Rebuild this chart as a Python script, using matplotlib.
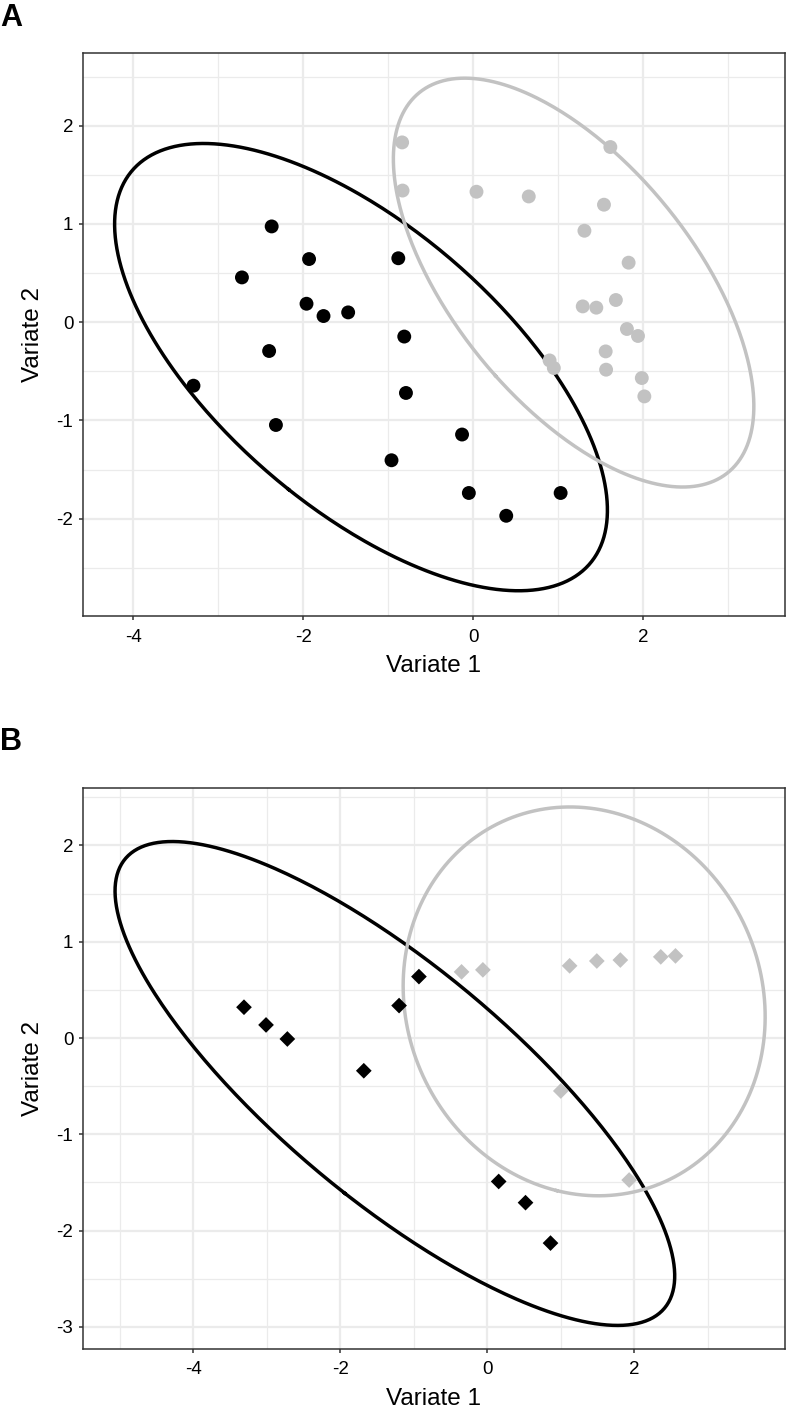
"""Two-panel sample plot (Variate 1 vs Variate 2) with 95% confidence ellipses
per group, ggplot/theme_bw look. Saves out.png."""
import matplotlib
matplotlib.use("Agg")
import matplotlib.pyplot as plt
import numpy as np

BLACK_C, GREY_C = "#000000", "#C2C2C2"
GRID_C = "#EBEBEB"
BORDER_C = "#333333"

# panel A - circles
a_black_x = [-2.37, -2.72, -1.93, -0.88, -1.96, -1.76, -1.47, -0.81, -2.40,
             -3.29, -0.79, -2.32, -0.13, -0.96, -0.05, 1.03, 0.39]
a_black_y = [0.975, 0.456, 0.643, 0.651, 0.188, 0.063, 0.10, -0.146, -0.293,
             -0.646, -0.72, -1.046, -1.143, -1.405, -1.738, -1.738, -1.97]
a_grey_x = [-0.835, 1.615, -0.83, 0.04, 0.655, 1.54, 1.31, 1.83, 1.29, 1.45,
            1.68, 1.81, 1.94, 1.56, 0.90, 0.95, 1.565, 1.985, 2.015]
a_grey_y = [1.83, 1.783, 1.34, 1.328, 1.28, 1.196, 0.931, 0.606, 0.161, 0.148,
            0.226, -0.069, -0.14, -0.297, -0.389, -0.466, -0.483, -0.568, -0.755]

# panel B - diamonds
b_black_x = [-3.31, -3.01, -2.72, -1.68, -1.20, -0.93, 0.155, 0.52, 0.86]
b_black_y = [0.32, 0.136, -0.01, -0.34, 0.337, 0.638, -1.49, -1.71, -2.13]
b_grey_x = [-0.35, -0.06, 1.12, 1.49, 1.81, 2.36, 2.56, 1.00, 1.93]
b_grey_y = [0.687, 0.708, 0.75, 0.80, 0.81, 0.843, 0.853, -0.55, -1.475]

A_XLIM, A_YLIM = (-4.59, 3.67), (-2.99, 2.74)
B_XLIM, B_YLIM = (-5.50, 4.05), (-3.23, 2.60)
A_YTICKS = [-2, -1, 0, 1, 2]
B_YTICKS = [-3, -2, -1, 0, 1, 2]
XTICKS = [-4, -2, 0, 2]

plt.rcParams.update({
    "font.family": ["Liberation Sans", "DejaVu Sans"],
    "font.size": 13.5,
})


def ellipse(xs, ys, level=0.95, n=400):
    pts = np.column_stack([xs, ys])
    mu = pts.mean(axis=0)
    cov = np.cov(pts, rowvar=False)
    t = np.sqrt(-2 * np.log(1 - level))  # sqrt(qchisq(level, 2))
    vals, vecs = np.linalg.eigh(cov)
    th = np.linspace(0, 2 * np.pi, n)
    circ = np.vstack([np.cos(th), np.sin(th)]) * (t * np.sqrt(vals))[:, None]
    e = vecs @ circ
    return mu[0] + e[0], mu[1] + e[1]


def style(ax, xlim, ylim, yticks):
    ax.set_xlim(xlim)
    ax.set_ylim(ylim)
    ax.set_xticks(XTICKS)
    ax.set_yticks(yticks)
    ax.set_xticklabels([str(v) for v in XTICKS])
    ax.set_yticklabels([str(v) for v in yticks])
    xminor = [v + 1 for v in range(-8, 8, 2)]
    yminor = [v + 0.5 for v in range(-5, 5)]
    ax.set_xticks([v for v in xminor if xlim[0] < v < xlim[1]], minor=True)
    ax.set_yticks([v for v in yminor if ylim[0] < v < ylim[1]], minor=True)
    ax.grid(True, which="major", color=GRID_C, lw=1.6, zorder=0)
    ax.grid(True, which="minor", color=GRID_C, lw=0.9, zorder=0)
    ax.set_axisbelow(True)
    for s in ax.spines.values():
        s.set_color(BORDER_C)
        s.set_linewidth(1.1)
    ax.tick_params(which="major", length=3, width=1.1, color=BORDER_C,
                   labelcolor="black", labelsize=13.5)
    ax.tick_params(axis="x", which="major", pad=6)
    ax.tick_params(axis="y", which="major", pad=4)
    ax.tick_params(which="minor", length=0)
    ax.set_xlabel("Variate 1", fontsize=17.5, labelpad=7)
    ax.set_ylabel("Variate 2", fontsize=17.5, labelpad=9)


fig = plt.figure(figsize=(7.86, 14.13), dpi=100)
axA = fig.add_axes([83 / 786, 1 - 616 / 1413, 702 / 786, 563 / 1413])
axB = fig.add_axes([83 / 786, 1 - 1349 / 1413, 702 / 786, 561.3 / 1413])

# panel A
ex, ey = ellipse(a_black_x, a_black_y)
axA.plot(ex, ey, color=BLACK_C, lw=2.5, zorder=3)
ex, ey = ellipse(a_grey_x, a_grey_y)
axA.plot(ex, ey, color=GREY_C, lw=2.5, zorder=3)
axA.scatter(a_grey_x, a_grey_y, s=100, color=GREY_C, edgecolors="none", zorder=4)
axA.scatter(a_black_x, a_black_y, s=100, color=BLACK_C, edgecolors="none", zorder=4)
style(axA, A_XLIM, A_YLIM, A_YTICKS)

# panel B
ex, ey = ellipse(b_black_x, b_black_y)
axB.plot(ex, ey, color=BLACK_C, lw=2.5, zorder=3)
ex, ey = ellipse(b_grey_x, b_grey_y)
axB.plot(ex, ey, color=GREY_C, lw=2.5, zorder=3)
axB.scatter(b_grey_x, b_grey_y, s=64, marker="D", color=GREY_C, edgecolors="none", zorder=4)
axB.scatter(b_black_x, b_black_y, s=64, marker="D", color=BLACK_C, edgecolors="none", zorder=4)
style(axB, B_XLIM, B_YLIM, B_YTICKS)

fig.text(0 / 786, 1 - 3 / 1413, "A", fontsize=22, fontweight="bold", ha="left", va="top")
fig.text(0 / 786, 1 - 727 / 1413, "B", fontsize=22, fontweight="bold", ha="left", va="top")

fig.savefig("out.png", dpi=100)
